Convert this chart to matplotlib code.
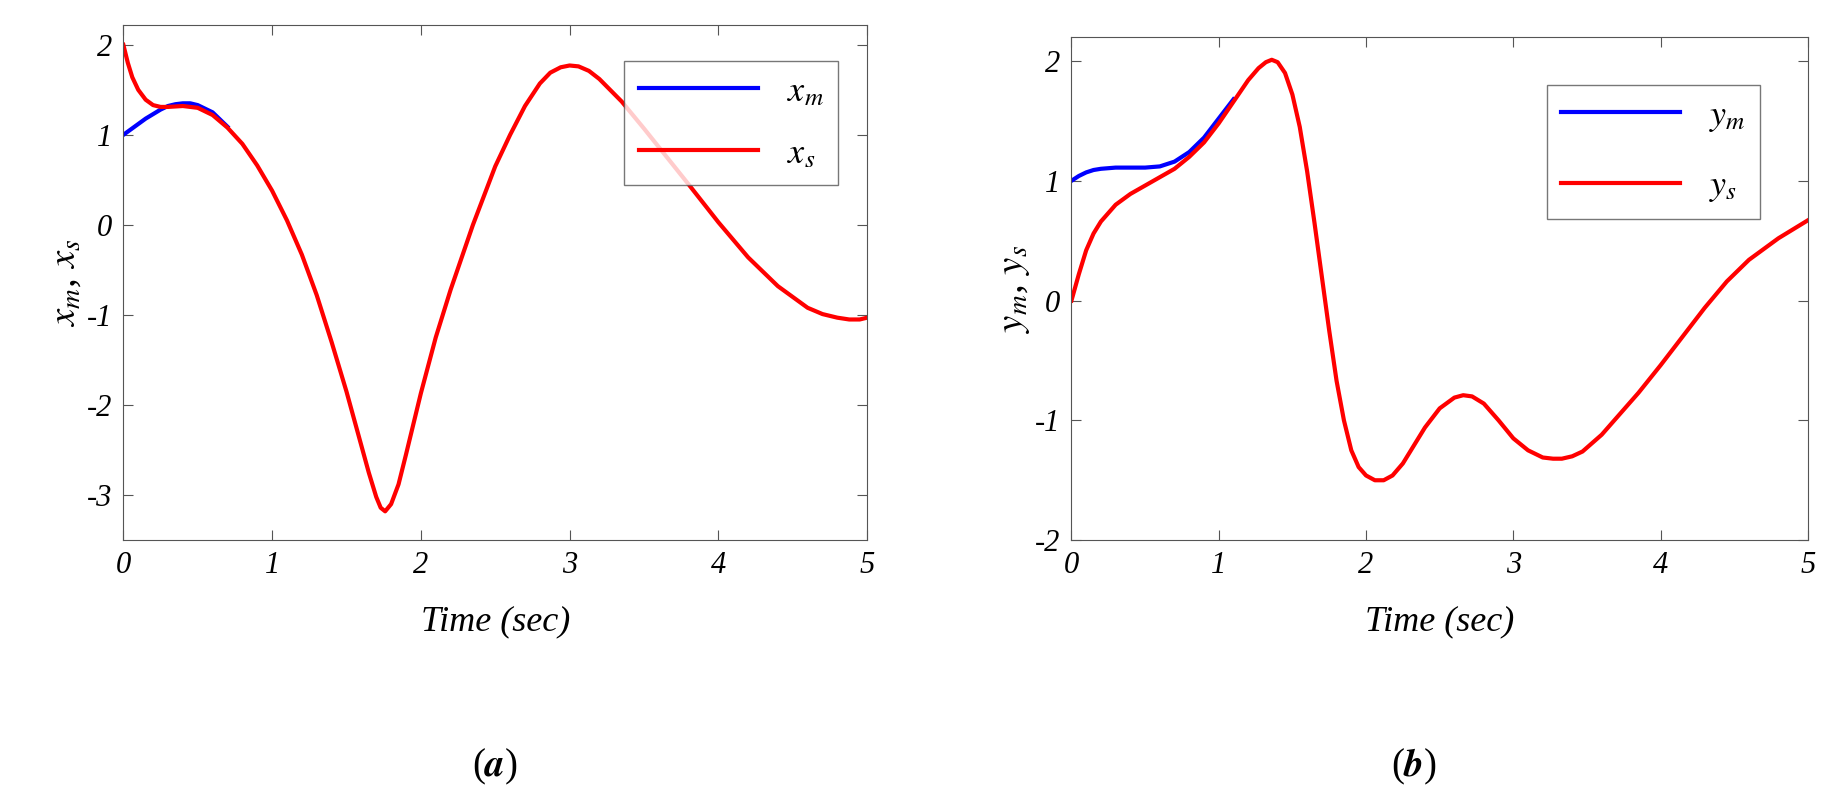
import matplotlib.pyplot as plt
import numpy as np
import matplotlib

matplotlib.rc('font', family='Liberation Serif', style='italic', size=22)
plt.rcParams['mathtext.fontset'] = 'stix'
plt.rcParams['axes.unicode_minus'] = False

# panel (a)
t_xs = [0, 0.03, 0.06, 0.1, 0.15, 0.2, 0.25, 0.3, 0.4, 0.5, 0.6, 0.7, 0.8, 0.9, 1.0, 1.1, 1.2, 1.3,
        1.4, 1.5, 1.6, 1.65, 1.7, 1.73, 1.76, 1.8, 1.85, 1.9, 2.0, 2.1, 2.2, 2.35, 2.5, 2.6, 2.7,
        2.8, 2.87, 2.94, 3.0, 3.06, 3.13, 3.2, 3.35, 3.5, 3.65, 3.8, 4.0, 4.2, 4.4, 4.6, 4.7, 4.8,
        4.88, 4.95, 5.0]
xs = [2.0, 1.8, 1.64, 1.5, 1.39, 1.33, 1.31, 1.31, 1.32, 1.3, 1.22, 1.08, 0.9, 0.66, 0.38, 0.05,
      -0.33, -0.78, -1.3, -1.85, -2.45, -2.75, -3.02, -3.14, -3.18, -3.1, -2.88, -2.55, -1.87,
      -1.25, -0.72, 0.0, 0.65, 1.0, 1.32, 1.57, 1.69, 1.75, 1.77, 1.76, 1.71, 1.62, 1.37, 1.07,
      0.76, 0.45, 0.03, -0.36, -0.68, -0.92, -0.99, -1.03, -1.05, -1.05, -1.03]
t_xm = [0, 0.05, 0.1, 0.15, 0.2, 0.25, 0.3, 0.35, 0.4, 0.45, 0.5, 0.6, 0.7]
xm = [1.0, 1.06, 1.12, 1.18, 1.23, 1.28, 1.32, 1.34, 1.35, 1.35, 1.33, 1.25, 1.09]

# panel (b)
t_ys = [0, 0.05, 0.1, 0.15, 0.2, 0.3, 0.4, 0.5, 0.6, 0.7, 0.8, 0.9, 1.0, 1.1, 1.2, 1.27, 1.32, 1.36,
        1.4, 1.45, 1.5, 1.55, 1.6, 1.65, 1.7, 1.75, 1.8, 1.85, 1.9, 1.95, 2.0, 2.06, 2.12, 2.18,
        2.25, 2.3, 2.4, 2.5, 2.6, 2.66, 2.72, 2.8, 2.9, 3.0, 3.1, 3.2, 3.27, 3.33, 3.4, 3.47, 3.6,
        3.7, 3.85, 4.0, 4.15, 4.3, 4.45, 4.6, 4.8, 5.0]
ys = [0.0, 0.22, 0.42, 0.56, 0.66, 0.8, 0.89, 0.96, 1.03, 1.1, 1.2, 1.32, 1.48, 1.66, 1.84, 1.94,
      1.99, 2.01, 1.99, 1.9, 1.72, 1.45, 1.08, 0.65, 0.2, -0.25, -0.67, -1.0, -1.25, -1.39, -1.46,
      -1.5, -1.5, -1.46, -1.36, -1.26, -1.06, -0.9, -0.81, -0.79, -0.8, -0.86, -1.0, -1.15, -1.25,
      -1.31, -1.32, -1.32, -1.3, -1.26, -1.12, -0.98, -0.77, -0.54, -0.3, -0.06, 0.16, 0.34, 0.52,
      0.67]
t_ym = [0, 0.05, 0.1, 0.15, 0.2, 0.3, 0.4, 0.5, 0.6, 0.7, 0.8, 0.9, 1.0, 1.1]
ym = [1.0, 1.04, 1.07, 1.09, 1.1, 1.11, 1.11, 1.11, 1.12, 1.16, 1.24, 1.36, 1.52, 1.68]

fig = plt.figure(figsize=(18.41, 8.05), dpi=100)
ax1 = fig.add_axes([0.067, 0.329, 0.404, 0.64])
ax2 = fig.add_axes([0.582, 0.329, 0.400, 0.625])

for ax in (ax1, ax2):
    for s in ax.spines.values():
        s.set_color('#555555')
    ax.tick_params(direction='in', top=True, right=True, length=7, color='#555555', labelsize=22, pad=8)
    ax.set_xlim(0, 5)
    ax.set_xticks(range(6))
    ax.set_xlabel('Time (sec)', fontsize=26, labelpad=18)

ax1.plot(t_xm, xm, color='blue', lw=3, label='$x_m$')
ax1.plot(t_xs, xs, color='red', lw=3, label='$x_s$')
ax1.set_ylim(-3.5, 2.22)
ax1.set_yticks([-3, -2, -1, 0, 1, 2])
ax1.set_ylabel('$x_m$, $x_s$', fontsize=28, labelpad=2)
ax1.legend(loc='upper right', bbox_to_anchor=(0.985, 0.965), fancybox=False, edgecolor='#555555',
           fontsize=26, handlelength=3.3, labelspacing=0.8)

ax2.plot(t_ym, ym, color='blue', lw=3, label='$y_m$')
ax2.plot(t_ys, ys, color='red', lw=3, label='$y_s$')
ax2.set_ylim(-2, 2.2)
ax2.set_yticks([-2, -1, 0, 1, 2])
ax2.set_ylabel('$y_m$, $y_s$', fontsize=28, labelpad=2)
ax2.legend(loc='upper right', bbox_to_anchor=(0.96, 0.94), fancybox=False, edgecolor='#555555',
           fontsize=26, handlelength=3.3, labelspacing=1.0)

fig.text(0.269, 0.035, r'($\mathbf{a}$)', ha='center', fontsize=28, style='normal')
fig.text(0.768, 0.035, r'($\mathbf{b}$)', ha='center', fontsize=28, style='normal')

plt.savefig('out.png', dpi=100)
